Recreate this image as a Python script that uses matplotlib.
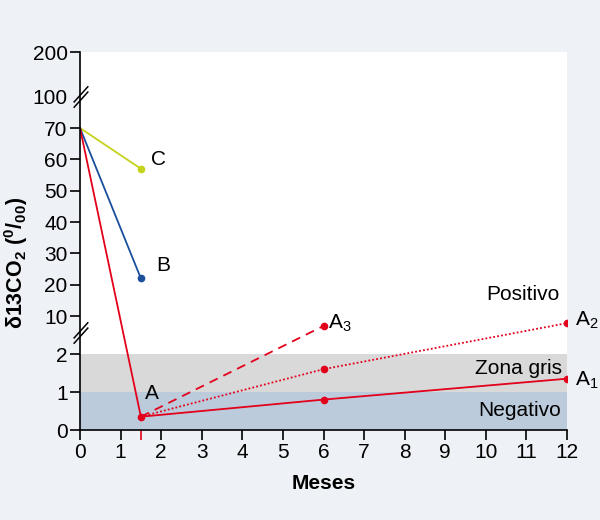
import numpy as np
import matplotlib
matplotlib.use("Agg")
import matplotlib.pyplot as plt

plt.rcParams['font.family'] = ['Liberation Sans', 'DejaVu Sans']
plt.rcParams['mathtext.fontset'] = 'custom'
plt.rcParams['mathtext.rm'] = 'Liberation Sans'
plt.rcParams['mathtext.it'] = 'Liberation Sans:italic'
plt.rcParams['mathtext.bf'] = 'Liberation Sans:bold'

# ---- data ----
months_init = [0, 1.5]
serie_A = [70, 0.35]
serie_B = [70, 22]
serie_C = [70, 57]
months_follow = [1.5, 6, 12]
serie_A1 = [0.35, 0.8, 1.35]
serie_A2 = [0.35, 1.6, 8.5]
months_A3 = [1.5, 6]
serie_A3 = [0.35, 7.9]
x_ticks = list(range(0, 13))
y_ticks = [0, 1, 2, 10, 20, 30, 40, 50, 60, 70, 100, 200]

# broken-axis piecewise mapping
y_break = [0, 2, 10, 70, 100, 200]
u_break = [0, 76, 114, 302, 333, 378]

def fwd(y):
    return np.interp(y, y_break, u_break)

def inv(u):
    return np.interp(u, u_break, y_break)

RED = '#e2001a'
BLUE = '#1a4f9c'
GREEN = '#c5d31a'
BG = '#eef2f6'

fig = plt.figure(figsize=(6, 5.2), dpi=100, facecolor=BG)
ax = fig.add_axes([80/600, 1-430/520, 487/600, 378/520])
ax.set_facecolor('white')
ax.set_yscale('function', functions=(fwd, inv))
ax.set_xlim(0, 12)
ax.set_ylim(0, 200)

ax.axhspan(0, 1, color='#bccbdc', zorder=0, lw=0)
ax.axhspan(1, 2, color='#d9d9d9', zorder=0, lw=0)

lw = 1.3
ax.plot(months_init, serie_C, color=GREEN, lw=lw)
ax.plot(months_init, serie_B, color=BLUE, lw=lw)
ax.plot(months_init, serie_A, color=RED, lw=lw)
ax.plot(months_follow, serie_A1, color=RED, lw=lw)
ax.plot(months_follow, serie_A2, color=RED, lw=lw, linestyle=(0, (1, 1.2)))
ax.plot(months_A3, serie_A3, color=RED, lw=lw, linestyle=(0, (5, 3.5)))

ms = 4.5
ax.plot(months_init[1], serie_C[1], 'o', color=GREEN, ms=ms)
ax.plot(months_init[1], serie_B[1], 'o', color=BLUE, ms=ms)
ax.plot(months_init[1], serie_A[1], 'o', color=RED, ms=ms)
ax.plot(months_follow[1:], serie_A1[1:], 'o', color=RED, ms=ms)
ax.plot(months_follow[1:], serie_A2[1:], 'o', color=RED, ms=ms)
ax.plot(months_A3[1], serie_A3[1], 'o', color=RED, ms=ms)

fs = 15
def lab(text, x, y, dx, dy):
    ax.annotate(text, (x, y), xytext=(dx, dy), textcoords='offset points',
                fontsize=fs, ha='left', va='center')

lab('A', months_init[1], serie_A[1], 3, 17)
lab('B', months_init[1], serie_B[1], 11, 9)
lab('C', months_init[1], serie_C[1], 7, 7)
lab('A$_1$', months_follow[2], serie_A1[2], 6, -1)
lab('A$_2$', months_follow[2], serie_A2[2], 6, 2)
lab('A$_3$', months_A3[1], serie_A3[1], 3, 2)

ax.text(0.985, 135/378, 'Positivo', transform=ax.transAxes, ha='right', va='center', fontsize=fs)
ax.text(0.99, 62/378, 'Zona gris', transform=ax.transAxes, ha='right', va='center', fontsize=fs)
ax.text(0.987, 20/378, 'Negativo', transform=ax.transAxes, ha='right', va='center', fontsize=fs)

for s in ['top', 'right']:
    ax.spines[s].set_visible(False)
for s in ['left', 'bottom']:
    ax.spines[s].set_linewidth(1.2)

ax.set_xticks(x_ticks)
ax.set_yticks(y_ticks)
ax.set_yticklabels([str(v) for v in y_ticks])
ax.tick_params(axis='both', direction='out', length=7.5, width=1.2, labelsize=15, pad=1.5)
ax.yaxis.get_major_ticks()[y_ticks.index(100)].tick1line.set_visible(False)
ax.set_xticks([1.5], minor=True)
ax.tick_params(axis='x', which='minor', length=7.5, width=1.2, color=RED)

# break marks
for uy in [333, 97]:
    fy = uy / 378
    for off in (-0.007, 0.007):
        ax.plot([-0.012, 0.016], [fy - 0.02 + off, fy + 0.02 + off], transform=ax.transAxes,
                color='black', lw=1.1, clip_on=False)

ax.set_xlabel('Meses', fontsize=15, fontweight='bold', labelpad=9)
ax.set_ylabel(r'δ13CO$_\mathbf{2}$ ($^\mathbf{0}$/$_\mathbf{00}$)', fontsize=15.5, fontweight='bold')
ax.yaxis.set_label_coords(-50/487, 167/378)

fig.savefig('out.png', dpi=100, facecolor=BG)
